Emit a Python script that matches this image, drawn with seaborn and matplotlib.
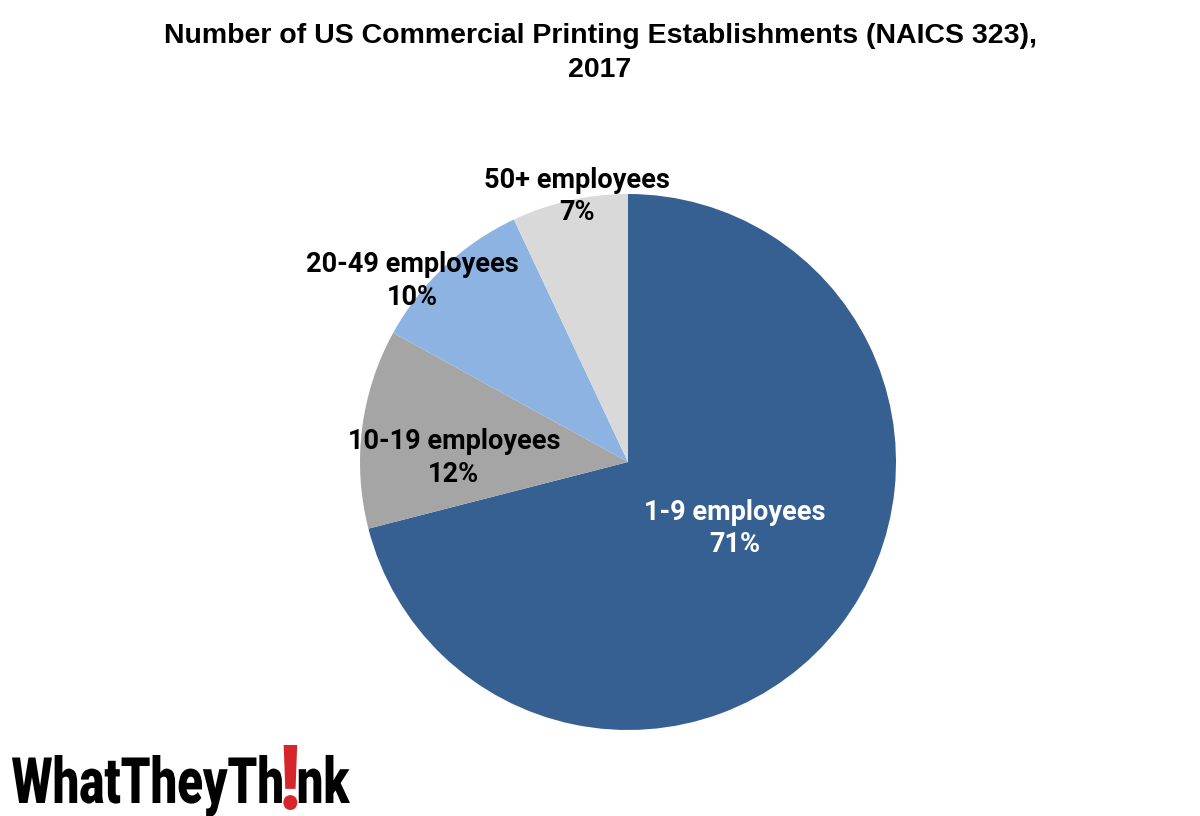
import numpy as np
import matplotlib
matplotlib.use("Agg")
import matplotlib.pyplot as plt
import seaborn as sns
from matplotlib.font_manager import FontProperties
from matplotlib.textpath import TextPath
from matplotlib.patches import PathPatch
from matplotlib.transforms import Affine2D, IdentityTransform

# data
categories = ["1-9 employees", "10-19 employees", "20-49 employees", "50+ employees"]
shares = [71, 12, 10, 7]
colors = ["#376092", "#A5A5A5", "#8DB3E2", "#D9D9D9"]
text_colors = ["white", "black", "black", "black"]

# label placement (angle in degrees, distance in radius units)
label_angle = [-32, 178.7, 140, 100.9]
label_dist = [0.47, 0.65, 1.05, 1.01]

title = "Number of US Commercial Printing Establishments (NAICS 323),\n2017"

sns.set_theme(style="white")
plt.rcParams["font.family"] = ["Roboto", "DejaVu Sans"]

fig = plt.figure(figsize=(12, 8.16), dpi=100)
cx, cy, r = 628 / 1200, (816 - 462) / 816, 268
ax = fig.add_axes([cx - r / 1200, cy - r / 816, 2 * r / 1200, 2 * r / 816])

wedges, _ = ax.pie(shares, colors=colors, startangle=90, counterclock=False,
                   wedgeprops=dict(linewidth=0))
ax.set_xlim(-1, 1)
ax.set_ylim(-1, 1)
ax.set_aspect("auto")
ax.axis("off")

for cat, val, ang, d, tc in zip(categories, shares, label_angle, label_dist, text_colors):
    a = np.deg2rad(ang)
    ax.text(d * np.cos(a), d * np.sin(a), f"{cat}\n{val}%", ha="center", va="center",
            fontsize=19.5, fontweight="bold", color=tc, linespacing=1.25)

fig.text(0.5, 0.972, title, ha="center", va="top", fontsize=20.5, fontweight="bold",
         color="black", family=["Liberation Sans", "DejaVu Sans"], linespacing=1.4)

# logo: WhatTheyTh!nk, drawn as squeezed text paths in pixel coordinates
fp = FontProperties(family="Roboto", weight="black")
p1 = TextPath((0, 0), "WhatTheyTh", size=100, prop=fp)
p2 = TextPath((0, 0), "!", size=100, prop=fp)
p3 = TextPath((0, 0), "nk", size=100, prop=fp)
e1, e2, e3 = p1.get_extents(), p2.get_extents(), p3.get_extents()
cap = e1.y1
gap = 3
sx = 0.8 * 48 / cap
xs, base = 12, 816 - 803
# squeeze the whole word to the logo width
total = ((e1.x1 - e1.x0) + (e3.x1 - e3.x0) + 2 * gap) * sx + 14
sx *= (338 - 14) / (total - 14)
sy = 48 / cap
for p, e, col in [(p1, e1, "black"), (p2, e2, "#D7262B"), (p3, e3, "black")]:
    if p is p2:
        w = 14
        tr = Affine2D().translate(-e.x0, -e.y0).scale(w / (e.x1 - e.x0), 65 / (e.y1 - e.y0))
        tr = tr.translate(xs + gap * sx, base - 7)
        xs += w + 2 * gap * sx
    else:
        tr = Affine2D().translate(-e.x0, 0).scale(sx, sy).translate(xs, base)
        xs += (e.x1 - e.x0) * sx
    fig.patches.append(PathPatch(p, facecolor=col, edgecolor="none",
                                 transform=tr + IdentityTransform(), figure=fig))

fig.savefig("out.png", dpi=100)
